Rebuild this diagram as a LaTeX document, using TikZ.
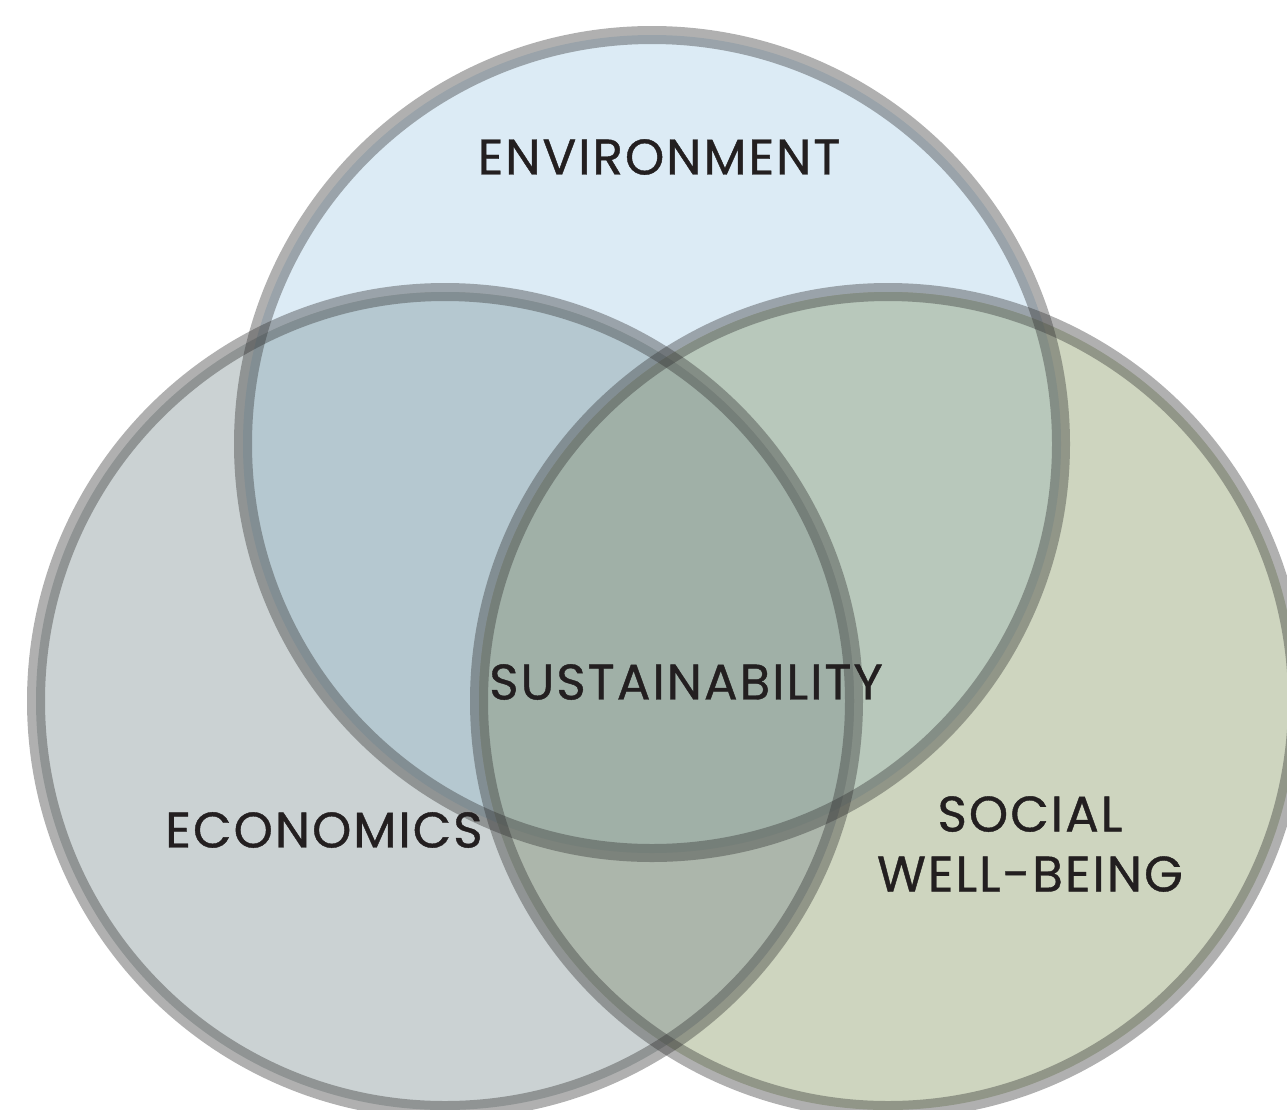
\documentclass[tikz,border=0pt]{standalone}
\usepackage{fontspec}
\setmainfont{Poppins}
\newfontfamily\lblfont[LetterSpace=4,FakeBold=0.8]{Poppins}
\definecolor{topfill}{HTML}{DCEBF5}
\definecolor{leftfill}{HTML}{CBD2D3}
\definecolor{rightfill}{HTML}{CED5BF}
\definecolor{tlfill}{HTML}{B5C8D0}
\definecolor{trfill}{HTML}{B8C8BB}
\definecolor{lrfill}{HTML}{ACB6AB}
\definecolor{allfill}{HTML}{A0B0A7}
\definecolor{ringcol}{HTML}{303030}
\definecolor{txt}{HTML}{231F20}
\begin{document}
\begin{tikzpicture}[x=1pt,y=-1pt,
  ring/.style={draw=ringcol,draw opacity=0.38,line width=18pt,fill=none},
  lbl/.style={font=\fontsize{50}{60}\selectfont\lblfont,text=txt,align=center,inner sep=0pt}]
\useasboundingbox (0,0) rectangle (1287,1109);
\clip (0,0) rectangle (1287,1109);
\def\R{409}
\coordinate (ct) at (652,444);
\coordinate (cl) at (445,701);
\coordinate (cr) at (888,701);
% base fills
\fill[topfill] (ct) circle (\R);
\fill[leftfill] (cl) circle (\R);
\fill[rightfill] (cr) circle (\R);
% pairwise overlaps
\begin{scope}\clip (ct) circle (\R); \fill[tlfill] (cl) circle (\R); \fill[trfill] (cr) circle (\R); \end{scope}
\begin{scope}\clip (cl) circle (\R); \fill[lrfill] (cr) circle (\R); \end{scope}
\begin{scope}\clip (ct) circle (\R); \clip (cl) circle (\R); \fill[allfill] (cr) circle (\R); \end{scope}
% rings
\draw[ring] (ct) circle (\R);
\draw[ring] (cl) circle (\R);
\draw[ring] (cr) circle (\R);
% labels
\node[lbl] (env) at (659,157) {ENVIRONMENT};
\node[lbl] (sus) at (686,682) {SUSTAINABILITY};
\node[lbl] (eco) at (324,830) {ECONOMICS};
\node[lbl] (soc) at (1030,844) {SOCIAL\\WELL-BEING};
\end{tikzpicture}
\end{document}
